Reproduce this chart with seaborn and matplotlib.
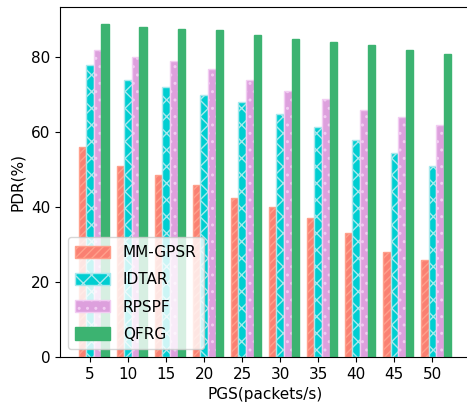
import numpy as np
import pandas as pd
import matplotlib
matplotlib.use('Agg')
import matplotlib.pyplot as plt
import matplotlib.patches as mpatches
import seaborn as sns

plt.rcParams['font.family'] = ['DejaVu Sans']
plt.rcParams['font.size'] = 11

pgs = [5, 10, 15, 20, 25, 30, 35, 40, 45, 50]
methods = ["MM-GPSR", "IDTAR", "RPSPF", "QFRG"]

mm_gpsr = [56, 51, 48.5, 46, 42.5, 40, 37, 33, 28, 26]
idtar = [78, 74, 72, 70, 68, 65, 61.5, 58, 54.5, 51]
rpspf = [82, 80, 79, 77, 74, 71, 69, 66, 64, 62]
qfrg = [89, 88, 87.7, 87.2, 86, 85, 84, 83.2, 82, 81]

face_colors = ['#FA8072', '#00CED1', '#DDA0DD', '#3CB371']
edge_colors = ['#FFA08C', '#A8E8EC', '#F2CCF2', '#3CB371']
hatches = ['////', 'xx', '..', '']

df = pd.DataFrame({
    "PGS": np.tile(pgs, 4),
    "Method": np.repeat(methods, len(pgs)),
    "PDR": mm_gpsr + idtar + rpspf + qfrg,
})

fig = plt.figure(figsize=(4.67, 4.09), dpi=100)
ax = fig.add_axes([60 / 467, 1 - 357 / 409, 410 / 467, 350 / 409])

sns.barplot(data=df, x="PGS", y="PDR", hue="Method", hue_order=methods,
            palette=dict(zip(methods, face_colors)), width=0.8,
            saturation=1, legend=False, ax=ax)

# restyle each series: hatch pattern drawn in a lighter edge colour
for cont, fc, ec, h in zip(ax.containers, face_colors, edge_colors, hatches):
    for bar in cont:
        bar.set_facecolor(fc)
        bar.set_edgecolor(ec)
        bar.set_hatch(h)
        bar.set_linewidth(1.0)

# ticks sit under the second series (original bars were offset)
ax.set_xticks(np.arange(len(pgs)) - 0.1, [str(p) for p in pgs])
ax.set_xlim(-0.89, 9.89)
ax.set_ylim(0, 93.45)
ax.set_yticks([0, 20, 40, 60, 80])
ax.set_xlabel("PGS(packets/s)", fontsize=11)
ax.set_ylabel("PDR(%)", fontsize=11)
ax.tick_params(labelsize=11)

handles = [mpatches.Patch(facecolor=fc, edgecolor=ec, hatch=h, label=m)
           for m, fc, ec, h in zip(methods, face_colors, edge_colors, hatches)]
ax.legend(handles=handles, loc='lower left', fontsize=11,
          handlelength=2.3, handleheight=0.85, handletextpad=0.8,
          labelspacing=0.8, borderpad=0.5)

fig.savefig("out.png", dpi=100)
